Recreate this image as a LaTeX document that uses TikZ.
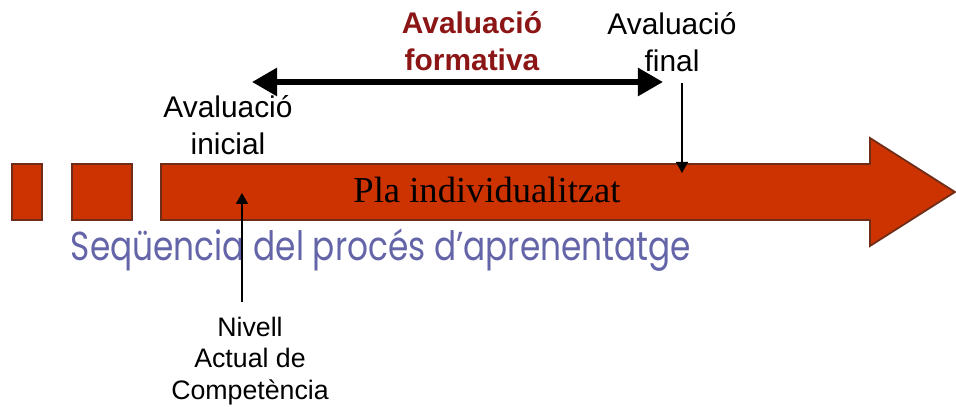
\documentclass[tikz,border=0pt]{standalone}
\usepackage{fontspec}
\setmainfont{Liberation Sans}
\newfontfamily\plafont{Liberation Serif}
\newfontfamily\seqfont{Poppins}
\usetikzlibrary{arrows.meta}
\definecolor{plared}{RGB}{204,51,0}
\definecolor{plaedge}{RGB}{110,45,25}
\definecolor{formred}{RGB}{140,22,22}
\definecolor{seqblue}{RGB}{100,100,168}

\begin{document}
\begin{tikzpicture}[x=0.01cm,y=-0.01cm,
  label/.style={align=center,inner sep=0pt,anchor=north,font=\fontsize{8.5}{10.4}\selectfont},
  thinarrow/.style={line width=0.4pt,-{Triangle[length=0.11cm,width=0.12cm]}},
  block/.style={fill=plared,draw=plaedge,line width=0.5pt}]
\useasboundingbox (0,0) rectangle (956,407);

% time line
\draw[block] (12,164) rectangle (42,220);
\draw[block] (72,164) rectangle (132,220);
\draw[block] (161,164) -- (870,164) -- (870,138) -- (955,192) -- (870,246)
  -- (870,220) -- (161,220) -- cycle;

\node[inner sep=0pt,anchor=base] (pla) at (487,203) {\plafont\fontsize{10.4}{12}\selectfont Pla individualitzat};
\node[inner sep=0pt,anchor=base,text=seqblue] (seq) at (381,261)
  {\scalebox{0.81}[1]{\seqfont\fontsize{11.5}{13}\selectfont Seqüencia del procés d’aprenentatge}};

% labels
\node[label,text=formred,font=\bfseries\fontsize{8.5}{10.4}\selectfont] (form) at (472,11) {Avaluació\\formativa};
\node[label] (fin) at (672,12) {Avaluació\\final};
\node[label] (ini) at (228,95) {Avaluació\\inicial};
\node[label,font=\fontsize{7.6}{9}\selectfont] (niv) at (250,316) {Nivell\\Actual de\\Competència};

\coordinate (formL) at (252,82);
\coordinate (formR) at (663,82);
\coordinate (finTail) at (682,83);
\coordinate (finTip) at (682,173);
\coordinate (nivTail) at (242,302);
\coordinate (nivTip) at (242,193);

\draw[line width=1.6pt,{Triangle[length=0.25cm,width=0.27cm]}-{Triangle[length=0.25cm,width=0.27cm]}] (formL) -- (formR);
\draw[thinarrow] (finTail) -- (finTip);
\draw[thinarrow] (nivTail) -- (nivTip);
\end{tikzpicture}
\end{document}
